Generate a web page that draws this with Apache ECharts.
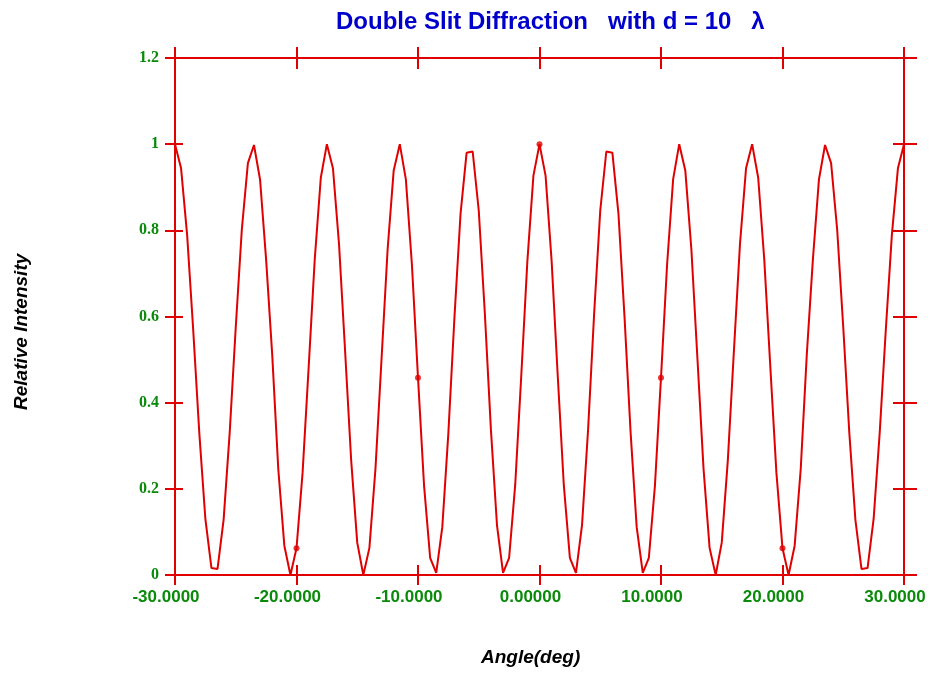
<!DOCTYPE html>
<html>
<head>
<meta charset="utf-8">
<title>Double Slit Diffraction</title>
<script src="https://cdn.jsdelivr.net/npm/echarts@6/dist/echarts.min.js"></script>
<style>
  html, body { margin: 0; padding: 0; background: #fff; }
  #chart { width: 930px; height: 675px; }
</style>
</head>
<body>
<div id="chart"></div>
<script>
// angle (deg), sampled every 0.5 deg
const angles = [
  -30, -29.5, -29, -28.5, -28, -27.5, -27, -26.5, -26, -25.5,
  -25, -24.5, -24, -23.5, -23, -22.5, -22, -21.5, -21, -20.5,
  -20, -19.5, -19, -18.5, -18, -17.5, -17, -16.5, -16, -15.5,
  -15, -14.5, -14, -13.5, -13, -12.5, -12, -11.5, -11, -10.5,
  -10, -9.5, -9, -8.5, -8, -7.5, -7, -6.5, -6, -5.5,
  -5, -4.5, -4, -3.5, -3, -2.5, -2, -1.5, -1, -0.5,
  0, 0.5, 1, 1.5, 2, 2.5, 3, 3.5, 4, 4.5,
  5, 5.5, 6, 6.5, 7, 7.5, 8, 8.5, 9, 9.5,
  10, 10.5, 11, 11.5, 12, 12.5, 13, 13.5, 14, 14.5,
  15, 15.5, 16, 16.5, 17, 17.5, 18, 18.5, 19, 19.5,
  20, 20.5, 21, 21.5, 22, 22.5, 23, 23.5, 24, 24.5,
  25, 25.5, 26, 26.5, 27, 27.5, 28, 28.5, 29, 29.5,
  30
];
// relative intensity
const intensity = [
  1.000, 0.944, 0.789, 0.568, 0.330, 0.130, 0.016, 0.014, 0.128, 0.330,
  0.575, 0.802, 0.956, 0.998, 0.918, 0.732, 0.512, 0.246, 0.068, 0.000,
  0.062, 0.237, 0.482, 0.732, 0.922, 1.000, 0.944, 0.768, 0.520, 0.266,
  0.075, 0.000, 0.063, 0.247, 0.502, 0.756, 0.939, 1.000, 0.919, 0.720,
  0.458, 0.207, 0.040, 0.005, 0.111, 0.330, 0.598, 0.838, 0.980, 0.983,
  0.846, 0.608, 0.338, 0.116, 0.005, 0.040, 0.209, 0.463, 0.728, 0.927,
  1.000, 0.927, 0.728, 0.463, 0.209, 0.040, 0.005, 0.116, 0.338, 0.608,
  0.846, 0.983, 0.980, 0.838, 0.598, 0.330, 0.111, 0.005, 0.040, 0.207,
  0.458, 0.720, 0.919, 1.000, 0.939, 0.756, 0.502, 0.247, 0.063, 0.000,
  0.075, 0.266, 0.520, 0.768, 0.944, 1.000, 0.922, 0.732, 0.482, 0.237,
  0.062, 0.000, 0.068, 0.246, 0.512, 0.732, 0.918, 0.998, 0.956, 0.802,
  0.575, 0.330, 0.128, 0.014, 0.016, 0.130, 0.330, 0.568, 0.789, 0.944,
  1.000
];
// marked points
const markAngles = [-20, -10, 0, 10, 20];
const markValues = [0.062, 0.458, 1.000, 0.458, 0.062];

const red = "#e00000";
const green = "#0a8a0a";

const chart = echarts.init(document.getElementById("chart"));

const lineData = angles.map((a, i) => [a, intensity[i]]);
const dotData = markAngles.map((a, i) => [a, markValues[i]]);

function xAxisCfg(pos, inside, len, labels) {
  return {
    type: "value",
    position: pos,
    min: -30,
    max: 30,
    interval: 10,
    axisLine: { show: true, onZero: false, lineStyle: { color: red, width: 2 } },
    axisTick: { show: true, inside: inside, length: len, lineStyle: { color: red, width: 2 } },
    splitLine: { show: false },
    axisLabel: labels ? {
      show: true,
      color: green,
      fontFamily: "Liberation Sans",
      fontWeight: "bold",
      fontSize: 17,
      margin: 14,
      padding: [0, 18, 0, 0],
      formatter: function (v) {
        return v === 0 ? "0.00000" : v.toFixed(4);
      }
    } : { show: false }
  };
}

function yAxisCfg(pos, inside, len, labels) {
  return {
    type: "value",
    position: pos,
    min: 0,
    max: 1.2,
    interval: 0.2,
    axisLine: { show: true, onZero: false, lineStyle: { color: red, width: 2 } },
    axisTick: { show: true, inside: inside, length: len, lineStyle: { color: red, width: 2 } },
    splitLine: { show: false },
    axisLabel: labels ? {
      show: true,
      color: green,
      fontFamily: "Liberation Serif",
      fontWeight: "bold",
      fontSize: 16,
      margin: 16,
      formatter: function (v) {
        return String(+v.toFixed(1));
      }
    } : { show: false }
  };
}

const option = {
  animation: false,
  backgroundColor: "#fff",
  title: {
    text: "Double Slit Diffraction   with d = 10   \u03bb",
    left: 331,
    top: 5,
    textStyle: {
      color: "#0000cc",
      fontFamily: "Liberation Sans",
      fontWeight: "bold",
      fontSize: 24
    }
  },
  grid: { left: 175, right: 26, top: 58, bottom: 100, containLabel: false },
  xAxis: [
    xAxisCfg("bottom", false, 10, true),
    xAxisCfg("bottom", true, 10, false),
    xAxisCfg("top", false, 11, false),
    xAxisCfg("top", true, 11, false)
  ],
  yAxis: [
    yAxisCfg("left", false, 10, true),
    yAxisCfg("left", true, 8, false),
    yAxisCfg("right", false, 13, false),
    yAxisCfg("right", true, 11, false)
  ],
  graphic: [
    {
      type: "text",
      left: 481,
      top: 648,
      style: {
        text: "Angle(deg)",
        fill: "#000",
        font: "italic bold 19px 'Liberation Sans'"
      }
    },
    {
      type: "text",
      x: 12,
      y: 410,
      rotation: Math.PI / 2,
      style: {
        text: "Relative Intensity",
        fill: "#000",
        font: "italic bold 19px 'Liberation Sans'"
      }
    }
  ],
  series: [
    {
      type: "line",
      xAxisIndex: 0,
      yAxisIndex: 0,
      data: lineData,
      showSymbol: false,
      smooth: false,
      lineStyle: { color: red, width: 2 },
      silent: true
    },
    {
      type: "scatter",
      xAxisIndex: 0,
      yAxisIndex: 0,
      data: dotData,
      symbolSize: 6,
      itemStyle: { color: red },
      silent: true
    }
  ]
};

chart.setOption(option);
</script>
</body>
</html>
